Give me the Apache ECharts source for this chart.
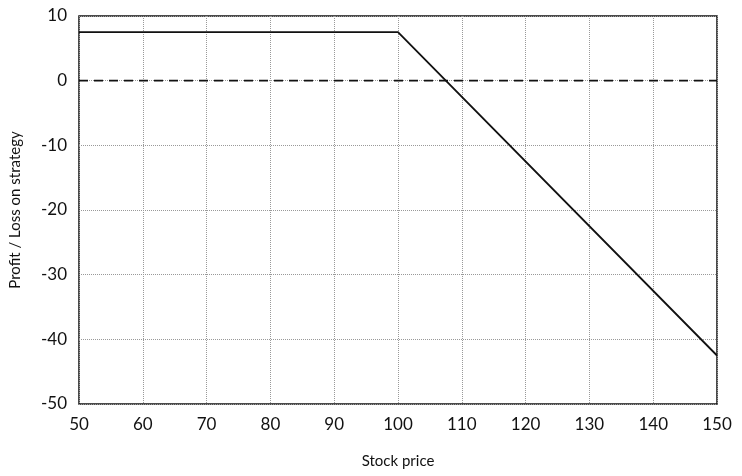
<!DOCTYPE html>
<html>
<head>
<meta charset="utf-8">
<script src="https://cdn.jsdelivr.net/npm/echarts@6/dist/echarts.min.js"></script>
<style>
  html, body { margin: 0; padding: 0; background: #fff; }
  #chart { width: 742px; height: 476px; }
</style>
</head>
<body>
<div id="chart"></div>
<script>
// stock price breakpoints and strategy profit/loss
const stockPrice = [50, 100, 150]
const profitLoss = [7.5, 7.5, -42.5]
const zeroLineX = [50, 150]
const zeroLineY = [0, 0]

const chart = echarts.init(document.getElementById('chart'))
const font = 'Lato, "Open Sans", sans-serif'

chart.setOption({
  animation: false,
  grid: { left: 78, right: 25, top: 16, bottom: 72, show: true, borderColor: '#111', borderWidth: 1.5 },
  xAxis: {
    type: 'value',
    min: 50, max: 150, interval: 10,
    name: 'Stock price',
    nameLocation: 'middle',
    nameGap: 50,
    nameTextStyle: { color: '#111', fontSize: 15, fontFamily: font },
    axisLine: { show: false },
    axisTick: { show: false },
    axisLabel: { color: '#111', fontSize: 17, fontFamily: font, margin: 12 },
    splitLine: { lineStyle: { color: '#999', type: 'dotted', width: 1 } }
  },
  yAxis: {
    type: 'value',
    min: -50, max: 10, interval: 10,
    name: 'Profit / Loss on strategy',
    nameLocation: 'middle',
    nameGap: 56,
    nameTextStyle: { color: '#111', fontSize: 15, fontFamily: font },
    axisLine: { show: false },
    axisTick: { show: false },
    axisLabel: { color: '#111', fontSize: 17, fontFamily: font, margin: 12 },
    splitLine: { lineStyle: { color: '#999', type: 'dotted', width: 1 } }
  },
  series: [
    {
      type: 'line',
      data: zeroLineX.map((x, i) => [x, zeroLineY[i]]),
      showSymbol: false,
      lineStyle: { color: '#111', width: 1.8, type: [9, 6] }
    },
    {
      type: 'line',
      data: stockPrice.map((x, i) => [x, profitLoss[i]]),
      showSymbol: false,
      lineStyle: { color: '#111', width: 1.8 }
    }
  ]
})
</script>
</body>
</html>
